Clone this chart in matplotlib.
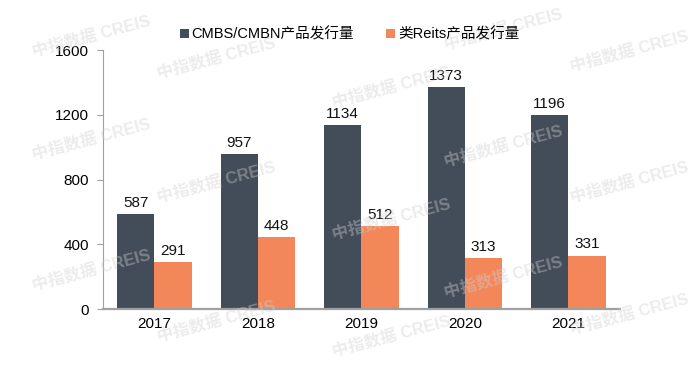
import matplotlib
matplotlib.use('Agg')
import matplotlib.pyplot as plt
import numpy as np

plt.rcParams['font.family'] = ['Liberation Sans', 'Noto Sans CJK SC', 'DejaVu Sans']

years = ['2017', '2018', '2019', '2020', '2021']
cmbs = [587, 957, 1134, 1373, 1196]
reits = [291, 448, 512, 313, 331]
labels = ['CMBS/CMBN产品发行量', '类Reits产品发行量']
colors = ['#434D59', '#F4875A']

fig = plt.figure(figsize=(6.99, 3.65), dpi=100)
ax = fig.add_axes([0.147, 0.153, 0.74, 0.71])

x = np.arange(len(years))
w = 0.36
b1 = ax.bar(x - w / 2, cmbs, w, color=colors[0], label=labels[0])
b2 = ax.bar(x + w / 2, reits, w, color=colors[1], label=labels[1])
for bars in (b1, b2):
    for r in bars:
        ax.text(r.get_x() + r.get_width() / 2, r.get_height() + 25, str(int(r.get_height())),
                ha='center', va='bottom', fontsize=11, color='#111111')

ax.set_xlim(-0.5, len(years) - 0.5)
ax.set_ylim(0, 1600)
ax.set_yticks([0, 400, 800, 1200, 1600])
ax.set_xticks(x)
ax.set_xticklabels(years)
ax.tick_params(axis='y', labelsize=11, length=4, color='#A0A0A0', pad=6)
ax.tick_params(axis='x', labelsize=11, length=0, pad=6)
for s in ['top', 'right']:
    ax.spines[s].set_visible(False)
for s in ['left', 'bottom']:
    ax.spines[s].set_color('#A0A0A0')
ax.spines['bottom'].set_linewidth(1.6)

fig.legend(loc='center', bbox_to_anchor=(0.5, 0.905), ncol=2, frameon=False,
           fontsize=10.5, handlelength=0.6, handleheight=0.6, handletextpad=0.2,
           columnspacing=2.2)

# watermarks
for wx, wy in [(0.13, 0.90), (0.31, 0.84), (0.72, 0.92), (0.90, 0.86), (0.56, 0.76),
               (0.13, 0.62), (0.31, 0.50), (0.72, 0.60), (0.56, 0.40), (0.90, 0.50),
               (0.13, 0.26), (0.31, 0.12), (0.72, 0.24), (0.56, 0.08), (0.90, 0.14)]:
    fig.text(wx, wy, '中指数据 CREIS', fontsize=12, color='#D0D0D0', alpha=0.4,
             rotation=15, ha='center', va='center', fontweight='bold')

fig.savefig('out.png', dpi=100)
